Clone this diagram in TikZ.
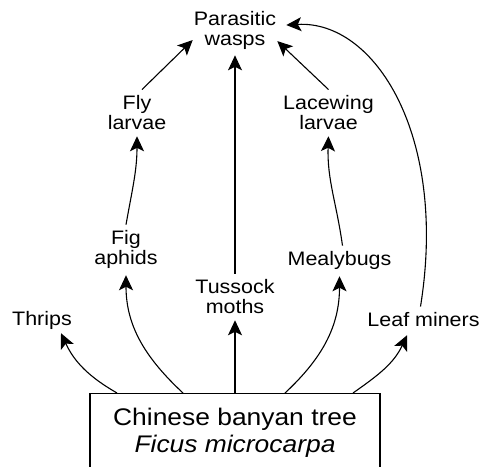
\documentclass[tikz,border=0pt]{standalone}
\usepackage{fontspec}
\setmainfont{Liberation Sans}[FakeStretch=1.1]
\usepackage{tikz}
\usetikzlibrary{arrows.meta}

\begin{document}
\begin{tikzpicture}[x=1pt,y=1pt,
  lbl/.style={inner sep=6pt, align=center, font=\fontsize{19.5}{20}\selectfont},
  arr/.style={line width=1.1pt, -{Stealth[length=15pt,width=14pt,inset=3.5pt]}}]
  \useasboundingbox (0,0) rectangle (484,466);
  \clip (0,0) rectangle (484,466);

  % host plant
  \node[draw, line width=1.2pt, anchor=north, minimum width=290pt, inner ysep=14.5pt, align=center,
        font=\fontsize{24}{27}\selectfont] (tree) at (235,73) {Chinese banyan tree\\\textit{Ficus microcarpa}};

  % herbivores
  \node[lbl] (thrips) at (42,145.05) {Thrips};
  \node[lbl] (fig) at (126,216.05) {Fig\\aphids};
  \node[lbl] (tussock) at (235,169.1) {Tussock\\moths};
  \node[lbl] (mealy) at (339.5,205.05) {Mealybugs};
  \node[lbl] (leaf) at (423.5,146.1) {Leaf miners};

  % predators and parasitoids
  \node[lbl] (fly) at (137,353.1) {Fly\\larvae};
  \node[lbl] (lace) at (328.5,353.1) {Lacewing\\larvae};
  \node[lbl] (wasps) at (235,435.95) {Parasitic\\wasps};

  % tree to herbivores
  \draw[arr] ([xshift=-118pt]tree.north) to[out=150,in=-65] ([xshift=19pt,yshift=3pt]thrips.south);
  \draw[arr] ([xshift=-52pt]tree.north) to[out=137,in=-90] (fig.south);
  \draw[arr] (tree.north) -- (tussock.south);
  \draw[arr] ([xshift=50pt]tree.north) to[out=43,in=-90] (mealy.south);
  \draw[arr] ([xshift=118pt]tree.north) to[out=35,in=-115] ([xshift=-16.5pt,yshift=-2pt]leaf.south);

  % herbivores upwards
  \draw[arr] (fig.north) to[out=80,in=-90] (fly.south);
  \draw[arr] ([xshift=3pt]mealy.north) to[out=98,in=-92] (lace.south);
  \draw[arr] ([xshift=5pt]fly.north) -- ([xshift=5pt,yshift=-10pt]wasps.west);
  \draw[arr] (lace.north) -- ([xshift=-5pt,yshift=-11pt]wasps.east);
  \draw[arr] (tussock.north) -- (wasps.south);
  \draw[arr] ([xshift=-3pt]leaf.north) .. controls (448,330) and (375,446) .. ([xshift=4pt,yshift=5pt]wasps.east);
\end{tikzpicture}
\end{document}
